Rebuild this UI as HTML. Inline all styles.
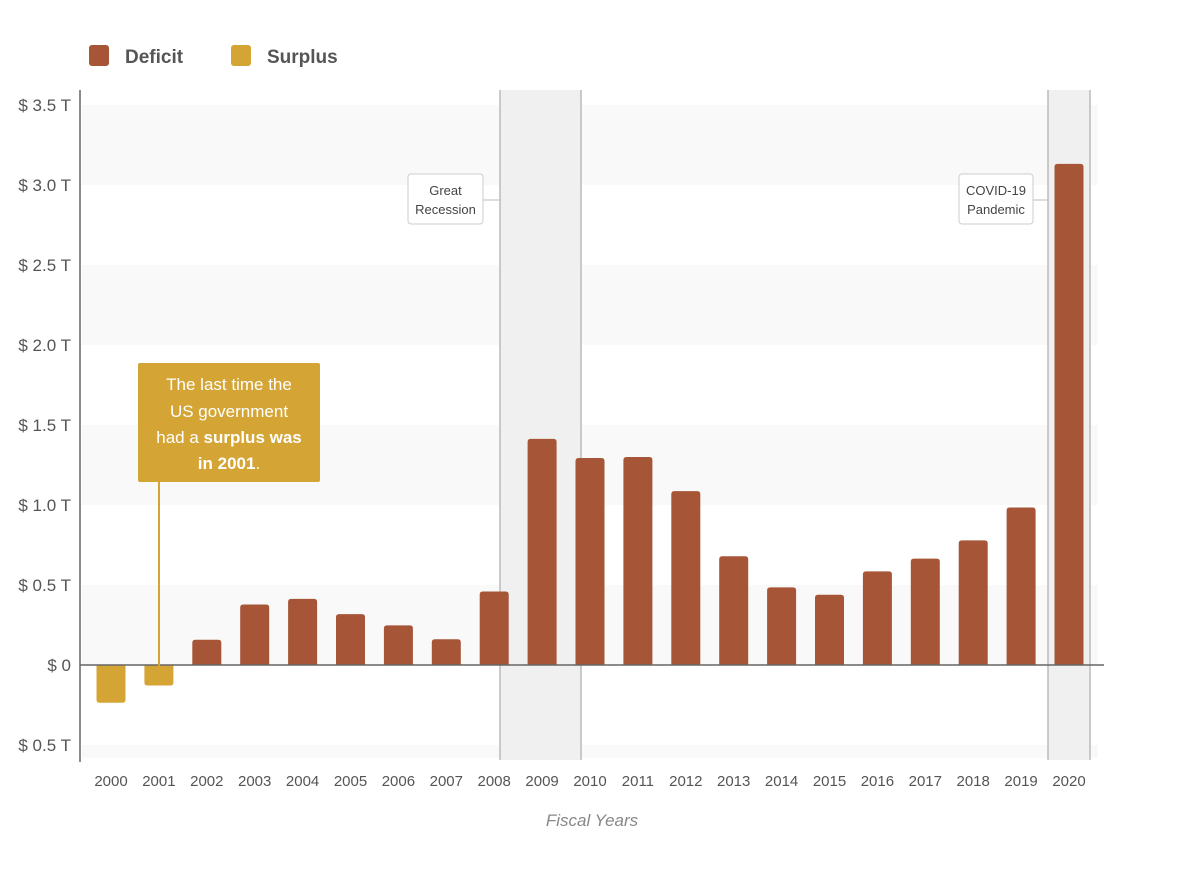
<!DOCTYPE html>
<html><head><meta charset="utf-8">
<style>
body{margin:0;background:#fff;width:1200px;height:865px;overflow:hidden;font-family:"Liberation Sans",sans-serif}
svg text{font-family:"Liberation Sans",sans-serif}
</style></head>
<body>
<svg width="1200" height="865" viewBox="0 0 1200 865">
<g id="bands"></g>
<rect x="500" y="90" width="81" height="670" fill="#f0f0f0"/>
<line x1="500" y1="90" x2="500" y2="760" stroke="#bbb" stroke-width="1.5"/>
<line x1="581" y1="90" x2="581" y2="760" stroke="#bbb" stroke-width="1.5"/>
<rect x="1048" y="90" width="42" height="670" fill="#f0f0f0"/>
<line x1="1048" y1="90" x2="1048" y2="760" stroke="#bbb" stroke-width="1.5"/>
<line x1="1090" y1="90" x2="1090" y2="760" stroke="#bbb" stroke-width="1.5"/>
<g id="yticks"></g>
<g id="bars"></g>
<g id="xticks"></g>
<line x1="80" y1="90" x2="80" y2="762" stroke="#666" stroke-width="1.5"/>
<line id="zeroline" x1="80" x2="1104" stroke="#666" stroke-width="1.5"/>
<text x="592" y="826" text-anchor="middle" font-size="17" font-style="italic" fill="#888">Fiscal Years</text>
<g>
<rect x="89" y="45" width="20" height="21" rx="3" fill="#a65637"/>
<text x="125" y="63" font-size="19" font-weight="bold" fill="#555">Deficit</text>
<rect x="231" y="45" width="20" height="21" rx="3" fill="#d4a535"/>
<text x="267" y="63" font-size="19" font-weight="bold" fill="#555">Surplus</text>
</g>
<g>
<line x1="483" y1="200" x2="500" y2="200" stroke="#bbb"/>
<rect x="408" y="174" width="75" height="50" rx="3" fill="#fff" stroke="#ccc"/>
<text x="445.5" y="195" text-anchor="middle" font-size="13" fill="#444">Great</text>
<text x="445.5" y="214" text-anchor="middle" font-size="13" fill="#444">Recession</text>
</g>
<g>
<line x1="1033" y1="200" x2="1048" y2="200" stroke="#bbb"/>
<rect x="959" y="174" width="74" height="50" rx="3" fill="#fff" stroke="#ccc"/>
<text x="996" y="195" text-anchor="middle" font-size="13" fill="#444">COVID-19</text>
<text x="996" y="214" text-anchor="middle" font-size="13" fill="#444">Pandemic</text>
</g>
<g>
<line x1="159" y1="481" x2="159" y2="666" stroke="#d4a535" stroke-width="2"/>
<rect x="138" y="363" width="182" height="119" rx="2" fill="#d4a535"/>
<text x="229" y="390" text-anchor="middle" font-size="17" fill="#fff">The last time the</text>
<text x="229" y="417" text-anchor="middle" font-size="17" fill="#fff">US government</text>
<text x="229" y="443" text-anchor="middle" font-size="17" fill="#fff">had a <tspan font-weight="bold">surplus was</tspan></text>
<text x="229" y="469" text-anchor="middle" font-size="17" fill="#fff"><tspan font-weight="bold">in 2001</tspan>.</text>
</g>
</svg>
<script>
const years=["2000","2001","2002","2003","2004","2005","2006","2007","2008","2009","2010","2011","2012","2013","2014","2015","2016","2017","2018","2019","2020"];
const balances=[-0.236,-0.128,0.158,0.378,0.413,0.318,0.248,0.161,0.459,1.413,1.294,1.300,1.087,0.680,0.485,0.439,0.585,0.665,0.779,0.984,3.132];
const yTickValues=[-0.5,0,0.5,1.0,1.5,2.0,2.5,3.0,3.5];
const yTickLabels=["$ 0.5 T","$ 0","$ 0.5 T","$ 1.0 T","$ 1.5 T","$ 2.0 T","$ 2.5 T","$ 3.0 T","$ 3.5 T"];
const NS="http://www.w3.org/2000/svg";
const y=v=>665-v*160;
const x=i=>111+i*47.9;
const bw=29;
document.getElementById('zeroline').setAttribute('y1',y(0));
document.getElementById('zeroline').setAttribute('y2',y(0));
const bands=document.getElementById('bands');
[[3.5,3.0],[2.5,2.0],[1.5,1.0],[0.5,0],[-0.5,-0.58]].forEach(b=>{
 const r=document.createElementNS(NS,'rect');
 r.setAttribute('x',82);r.setAttribute('width',1016);
 r.setAttribute('y',y(b[0]));r.setAttribute('height',y(b[1])-y(b[0]));
 r.setAttribute('fill','#f9f9f9');
 
 
 bands.appendChild(r);
});
const yt=document.getElementById('yticks');
yTickValues.forEach((v,i)=>{
 const t=document.createElementNS(NS,'text');
 t.setAttribute('x',71);t.setAttribute('y',y(v)+6);
 t.setAttribute('text-anchor','end');t.setAttribute('font-size','17');t.setAttribute('fill','#555');
 t.textContent=yTickLabels[i];
 
 
 yt.appendChild(t);
});
const bg=document.getElementById('bars'),xt=document.getElementById('xticks');
balances.forEach((v,i)=>{
 const r=document.createElementNS(NS,'path');
 const cx=x(i),l=cx-bw/2,rr=cx+bw/2,z=y(0),e=y(v),rad=3;
 let d;
 if(v>=0) d=`M${l},${z}V${e+rad}Q${l},${e} ${l+rad},${e}H${rr-rad}Q${rr},${e} ${rr},${e+rad}V${z}Z`;
 else d=`M${l},${z}V${e-rad}Q${l},${e} ${l+rad},${e}H${rr-rad}Q${rr},${e} ${rr},${e-rad}V${z}Z`;
 r.setAttribute('d',d);
 r.setAttribute('fill',v>=0?'#a65637':'#d4a535');
 
 
 bg.appendChild(r);
 const t=document.createElementNS(NS,'text');
 t.setAttribute('x',cx);t.setAttribute('y',786);
 t.setAttribute('text-anchor','middle');t.setAttribute('font-size','15');t.setAttribute('fill','#555');
 t.textContent=years[i];
 
 
 xt.appendChild(t);
});
</script>
</body></html>
